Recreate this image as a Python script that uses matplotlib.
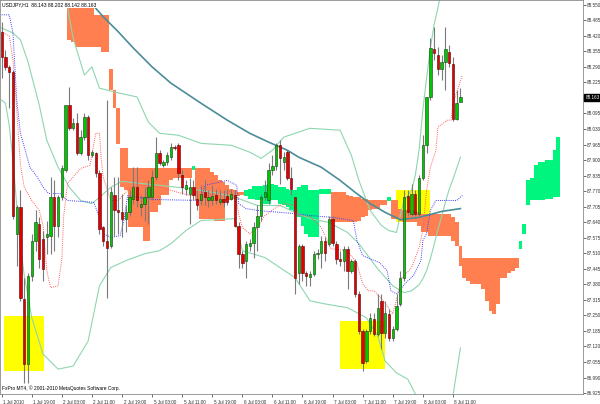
import matplotlib
matplotlib.use("Agg")
import matplotlib.pyplot as plt
import matplotlib.transforms as mtrans
import numpy as np

# USDJPY H1, bars from 1 Jul 2010 11:00 to 8 Jul 2010 13:00
opens = [88.437, 88.332, 88.290, 88.269, 87.592, 87.702, 87.319, 87.046, 87.416, 87.563,
         87.634, 87.571, 87.576, 87.584, 87.744, 87.626, 87.744, 87.857, 88.130, 88.033,
         88.054, 87.928, 87.996, 88.080, 87.920, 87.928, 87.844, 87.618, 87.563, 87.542,
         87.752, 87.689, 87.681, 87.655, 87.681, 87.739, 87.786, 87.702, 87.718, 87.744,
         87.744, 87.828, 87.928, 87.878, 87.891, 87.912, 87.954, 87.962, 87.836, 87.781,
         87.760, 87.786, 87.739, 87.731, 87.765, 87.731, 87.731, 87.752, 87.723, 87.739,
         87.748, 87.739, 87.752, 87.626, 87.508, 87.479, 87.542, 87.555, 87.618, 87.668,
         87.744, 87.731, 87.857, 87.874, 87.962, 87.891, 87.933, 87.823, 87.744, 87.429,
         87.542, 87.429, 87.412, 87.424, 87.508, 87.513, 87.563, 87.550, 87.655, 87.550,
         87.487, 87.479, 87.529, 87.437, 87.479, 87.340, 87.185, 87.059, 87.185, 87.235,
         87.172, 87.311, 87.177, 87.256, 87.156, 87.193, 87.298, 87.408, 87.748, 87.676,
         87.760, 87.676, 87.823, 87.962, 88.164, 88.365, 88.340, 88.281, 88.311, 88.353,
         88.302, 88.071, 88.143]
highs = [88.479, 88.361, 88.298, 88.277, 87.710, 87.773, 87.408, 87.429, 87.592, 87.689,
         87.660, 87.605, 87.647, 87.828, 87.815, 87.752, 87.878, 88.130, 88.206, 88.075,
         88.096, 88.025, 88.096, 88.088, 87.941, 87.933, 87.857, 87.626, 88.151, 87.786,
         87.828, 87.828, 87.760, 87.710, 87.773, 87.870, 87.870, 87.752, 87.786, 87.815,
         87.857, 87.996, 87.941, 87.899, 87.933, 87.970, 87.962, 87.970, 87.857, 87.815,
         87.823, 87.815, 87.773, 87.794, 87.815, 87.773, 87.794, 87.781, 87.773, 87.773,
         87.781, 87.781, 87.773, 87.639, 87.521, 87.563, 87.571, 87.639, 87.710, 87.760,
         87.815, 87.886, 87.920, 87.970, 87.983, 87.933, 87.941, 87.870, 87.744, 87.550,
         87.550, 87.437, 87.437, 87.521, 87.529, 87.584, 87.576, 87.668, 87.668, 87.563,
         87.521, 87.542, 87.542, 87.487, 87.487, 87.353, 87.193, 87.193, 87.261, 87.261,
         87.340, 87.340, 87.311, 87.277, 87.206, 87.340, 87.437, 87.773, 87.773, 87.802,
         87.773, 87.836, 88.004, 88.164, 88.411, 88.458, 88.374, 88.340, 88.458, 88.382,
         88.332, 88.193, 88.202]
lows = [88.243, 88.277, 88.117, 87.655, 87.458, 87.311, 86.967, 86.967, 87.395, 87.521,
        87.450, 87.395, 87.508, 87.508, 87.521, 87.576, 87.731, 87.849, 88.025, 88.025,
        87.920, 87.920, 87.983, 87.899, 87.912, 87.828, 87.592, 87.542, 87.324, 87.534,
        87.584, 87.592, 87.576, 87.597, 87.668, 87.718, 87.702, 87.668, 87.647, 87.634,
        87.731, 87.815, 87.878, 87.870, 87.878, 87.899, 87.941, 87.815, 87.760, 87.752,
        87.634, 87.731, 87.689, 87.710, 87.710, 87.702, 87.710, 87.718, 87.710, 87.702,
        87.710, 87.731, 87.618, 87.450, 87.450, 87.408, 87.521, 87.492, 87.521, 87.647,
        87.731, 87.718, 87.836, 87.857, 87.802, 87.857, 87.815, 87.752, 87.340, 87.382,
        87.395, 87.374, 87.374, 87.416, 87.487, 87.450, 87.479, 87.542, 87.542, 87.466,
        87.458, 87.437, 87.361, 87.429, 87.328, 87.172, 87.017, 87.051, 87.172, 87.164,
        87.164, 87.109, 87.156, 87.143, 87.143, 87.185, 87.290, 87.395, 87.668, 87.668,
        87.668, 87.668, 87.815, 87.928, 88.151, 88.319, 88.256, 88.235, 88.193, 88.290,
        88.063, 88.067, 88.142]
closes = [88.332, 88.290, 88.269, 87.668, 87.702, 87.324, 87.046, 87.416, 87.563, 87.639,
          87.487, 87.445, 87.592, 87.744, 87.626, 87.744, 87.865, 88.130, 88.033, 88.054,
          87.928, 87.996, 88.080, 87.920, 87.933, 87.844, 87.613, 87.563, 87.534, 87.765,
          87.689, 87.681, 87.655, 87.681, 87.744, 87.786, 87.731, 87.718, 87.744, 87.786,
          87.828, 87.928, 87.886, 87.891, 87.920, 87.954, 87.949, 87.844, 87.786, 87.794,
          87.786, 87.752, 87.710, 87.760, 87.744, 87.744, 87.748, 87.731, 87.739, 87.723,
          87.723, 87.760, 87.626, 87.508, 87.471, 87.550, 87.555, 87.618, 87.668, 87.744,
          87.765, 87.857, 87.874, 87.962, 87.907, 87.912, 87.823, 87.781, 87.408, 87.542,
          87.429, 87.416, 87.424, 87.508, 87.513, 87.563, 87.513, 87.655, 87.555, 87.487,
          87.479, 87.529, 87.437, 87.479, 87.340, 87.185, 87.051, 87.185, 87.240, 87.172,
          87.282, 87.177, 87.261, 87.156, 87.193, 87.290, 87.408, 87.744, 87.681, 87.760,
          87.676, 87.823, 87.962, 88.164, 88.369, 88.348, 88.281, 88.311, 88.365, 88.306,
          88.071, 88.138, 88.163]

# ichimoku cloud (senkou spans), bar 18 .. bar 148
cloud_start = 18
senkou_a = [88.592, 88.592, 88.592, 88.592, 88.592, 88.592, 88.550, 88.508, 88.508, 88.508,
            88.508, 88.281, 88.193, 88.117, 87.949, 87.949, 87.865, 87.865, 87.865, 87.865,
            87.865, 87.865, 87.865, 87.865, 87.865, 87.865, 87.865, 87.865, 87.865, 87.865,
            87.865, 87.865, 87.865, 87.857, 87.865, 87.865, 87.865, 87.865, 87.849, 87.836,
            87.815, 87.807, 87.794, 87.781, 87.773, 87.765, 87.765, 87.748, 87.739, 87.739,
            87.731, 87.731, 87.718, 87.718, 87.731, 87.731, 87.718, 87.710, 87.702, 87.689,
            87.681, 87.660, 87.626, 87.592, 87.576, 87.576, 87.576, 87.760, 87.760, 87.760,
            87.765, 87.765, 87.765, 87.765, 87.752, 87.748, 87.744, 87.744, 87.739, 87.739,
            87.735, 87.731, 87.731, 87.731, 87.731, 87.727, 87.731, 87.731, 87.697, 87.689,
            87.689, 87.689, 87.689, 87.681, 87.676, 87.676, 87.676, 87.676, 87.676, 87.676,
            87.676, 87.676, 87.660, 87.639, 87.542, 87.492, 87.492, 87.492, 87.492, 87.492,
            87.492, 87.492, 87.492, 87.492, 87.492, 87.492, 87.492, 87.492, 87.492, 87.492,
            87.529, 87.592, 87.710, 87.731, 87.731, 87.731, 87.731, 87.739, 87.739, 87.744,
            87.744]
senkou_b = [88.403, 88.395, 88.374, 88.374, 88.374, 88.374, 88.374, 88.374, 88.374, 88.353,
            88.353, 88.193, 88.117, 87.966, 87.786, 87.773, 87.618, 87.618, 87.618, 87.618,
            87.563, 87.563, 87.681, 87.681, 87.710, 87.752, 87.752, 87.815, 87.823, 87.823,
            87.823, 87.823, 87.823, 87.874, 87.731, 87.655, 87.655, 87.655, 87.655, 87.647,
            87.647, 87.647, 87.731, 87.731, 87.739, 87.748, 87.752, 87.773, 87.781, 87.790,
            87.790, 87.790, 87.794, 87.802, 87.802, 87.794, 87.786, 87.786, 87.781, 87.773,
            87.773, 87.786, 87.794, 87.794, 87.773, 87.773, 87.773, 87.781, 87.781, 87.781,
            87.639, 87.639, 87.639, 87.639, 87.639, 87.639, 87.639, 87.647, 87.660, 87.668,
            87.689, 87.697, 87.697, 87.710, 87.714, 87.744, 87.655, 87.655, 87.647, 87.639,
            87.639, 87.639, 87.639, 87.626, 87.597, 87.597, 87.584, 87.584, 87.584, 87.584,
            87.584, 87.584, 87.563, 87.542, 87.458, 87.408, 87.395, 87.382, 87.382, 87.382,
            87.361, 87.311, 87.269, 87.256, 87.298, 87.408, 87.408, 87.429, 87.437, 87.450,
            87.563, 87.634, 87.815, 87.823, 87.878, 87.891, 87.891, 87.899, 87.899, 87.941,
            87.996]

# bollinger bands, read at sample bars
bb_mid_bars = [0, 3, 5, 7, 10, 12, 15, 18, 21, 24, 26, 29, 32, 37, 42, 47, 53, 58, 63, 68,
               74, 78, 82, 87, 92, 95, 100, 104, 107, 109, 111, 112, 113, 114, 115, 116,
               117, 118, 119, 120, 121, 122]
bb_mid = [88.453, 88.432, 88.403, 88.311, 88.130, 87.983, 87.870, 87.786, 87.731, 87.718,
          87.744, 87.786, 87.811, 87.802, 87.794, 87.786, 87.773, 87.760, 87.739, 87.710,
          87.710, 87.681, 87.655, 87.639, 87.597, 87.550, 87.445, 87.374, 87.345, 87.353,
          87.378, 87.403, 87.437, 87.487, 87.546, 87.609, 87.664, 87.723, 87.777, 87.819,
          87.865, 87.912]
bb_low_bars = [0, 1, 2, 3, 4, 5, 6, 7, 8, 11, 15, 19, 23, 26, 29, 33, 38, 42, 45, 49, 53,
               62, 64, 70, 74, 78, 82, 86, 92, 97, 100, 102, 105, 108, 111, 115, 119, 120, 122]
bb_low = [88.151, 88.138, 88.046, 87.899, 87.710, 87.542, 87.416, 87.332, 87.240, 87.088,
          87.025, 87.038, 87.143, 87.374, 87.450, 87.479, 87.508, 87.521, 87.550, 87.605,
          87.647, 87.655, 87.521, 87.492, 87.450, 87.408, 87.311, 87.298, 87.282, 87.240,
          87.164, 87.059, 87.009, 86.983, 86.891, 86.807, 86.849, 86.912, 87.114]
bb_up_bars = [15, 17, 18, 19, 22, 24, 26, 30, 36, 39, 42, 47, 53, 61, 66, 69, 72, 75, 82,
              90, 93, 95, 98, 101, 103, 105, 106, 107, 109, 110, 111, 112, 113, 114, 115,
              116, 117, 122]
bb_up = [88.697, 88.592, 88.495, 88.411, 88.256, 88.290, 88.201, 88.185, 88.164, 88.059,
         88.012, 88.004, 87.970, 87.962, 87.933, 87.907, 87.941, 87.996, 88.033, 88.025,
         87.920, 87.815, 87.689, 87.626, 87.605, 87.597, 87.668, 87.731, 87.773, 87.836,
         87.941, 88.109, 88.243, 88.369, 88.466, 88.537, 88.613, 88.739]

# slow moving average (teal)
ma_bars = [19, 23, 27, 31, 35, 40, 45, 53, 60, 66, 71, 76, 79, 85, 90, 94, 98, 102, 106,
           111, 117, 122]
ma_slow = [88.642, 88.571, 88.500, 88.437, 88.369, 88.290, 88.222, 88.138, 88.067, 88.012,
           87.975, 87.941, 87.912, 87.870, 87.815, 87.765, 87.718, 87.681, 87.651, 87.660,
           87.685, 87.697]

# tenkan-sen (red dotted) and kijun-sen (blue dotted)
tenkan_bars = [0, 2, 3, 4, 5, 6, 8, 10, 11, 12, 13, 15, 16, 16.5, 17.5, 21, 23.5, 25, 26,
               26.5, 27, 29, 31, 33, 35, 40, 45, 50, 55, 62, 63, 64, 66, 68, 70, 73, 75, 78,
               79, 82, 85, 87.5, 92, 94.5, 96, 97.5, 99, 101.5, 104, 106.5, 109, 111, 112,
               113, 114, 115.5, 116, 118.5, 119.5, 120, 121.5, 122.5]
tenkan = [88.437, 88.420, 88.319, 88.109, 87.878, 87.786, 87.731, 87.689, 87.626, 87.437,
          87.366, 87.374, 87.487, 87.668, 87.802, 87.865, 87.878, 88.012, 88.012, 87.899,
          87.828, 87.731, 87.731, 87.765, 87.790, 87.794, 87.773, 87.752, 87.752, 87.773,
          87.676, 87.618, 87.592, 87.618, 87.668, 87.702, 87.718, 87.710, 87.668, 87.664,
          87.618, 87.529, 87.521, 87.466, 87.382, 87.353, 87.353, 87.311, 87.256, 87.408,
          87.450, 87.534, 87.605, 87.773, 87.870, 87.941, 88.038, 88.067, 88.067, 88.138,
          88.206, 88.256]
kijun_bars = [0, 2, 3, 4, 5, 7.5, 9.5, 11, 12.5, 15.5, 17.5, 24.5, 26, 27, 29, 31.5, 32.5,
              33.5, 40, 53, 54, 60, 62.5, 63, 65, 68, 78, 82, 88, 93.5, 94.5, 96, 98, 100.5,
              102.5, 103.5, 105, 107.5, 109.5, 111.5, 112, 113, 114, 115.5, 121, 122.5]
kijun = [88.508, 88.508, 88.432, 88.151, 88.012, 87.870, 87.828, 87.786, 87.760, 87.760,
         87.731, 87.723, 87.660, 87.592, 87.576, 87.584, 87.647, 87.752, 87.735, 87.731,
         87.794, 87.815, 87.794, 87.718, 87.697, 87.689, 87.676, 87.668, 87.660, 87.647,
         87.563, 87.500, 87.487, 87.471, 87.437, 87.353, 87.340, 87.387, 87.416, 87.479,
         87.563, 87.592, 87.689, 87.731, 87.731, 87.752]

# yellow boxes: first bar, last bar, low price, high price
boxes = [(0.6, 11.2, 87.017, 87.248),
         (90.0, 102.0, 87.025, 87.227),
         (104.9, 114.0, 87.639, 87.773)]

price_ticks = [86.925, 86.990, 87.055, 87.120, 87.185, 87.250, 87.315, 87.380, 87.445,
               87.510, 87.575, 87.640, 87.705, 87.770, 87.835, 87.900, 87.965, 88.030,
               88.095, 88.160, 88.225, 88.290, 88.355, 88.420, 88.485, 88.550]
time_ticks = [0, 8, 16, 24, 32, 40, 48, 56, 64, 72, 80, 88, 96, 104, 112, 120]
time_labels = ['1 Jul 2010', '1 Jul 19:00', '2 Jul 03:00', '2 Jul 11:00', '2 Jul 19:00',
               '5 Jul 03:00', '5 Jul 11:00', '5 Jul 19:00', '6 Jul 03:00', '6 Jul 11:00',
               '6 Jul 19:00', '7 Jul 03:00', '7 Jul 11:00', '7 Jul 19:00', '8 Jul 03:00',
               '8 Jul 11:00']
last_price = 88.163

plt.rcParams['font.family'] = ['Liberation Sans', 'DejaVu Sans']

fig = plt.figure(figsize=(6.0, 4.04), dpi=100)
ax = fig.add_axes([0, 10 / 404, 583 / 600, 394 / 404])
ax.set_xlim(-0.45, 154.6)
ax.set_ylim(86.921, 88.570)

# yellow rectangles
for x0, x1, lo, hi in boxes:
    ax.add_patch(plt.Rectangle((x0, lo), x1 - x0, hi - lo, color='#ffff00', lw=0, zorder=0.5))

# cloud as histogram
sa = np.array(senkou_a)
sb = np.array(senkou_b)
cx = np.arange(cloud_start, cloud_start + len(sa))
up = sa >= sb
ax.bar(cx[up], (sa - sb)[up], bottom=sb[up], width=1.0, color='#ff7f50', lw=0, zorder=1)
ax.bar(cx[~up], (sb - sa)[~up], bottom=sa[~up], width=1.0, color='#00f57f', lw=0, zorder=1)

# bands and averages
bb_col = '#8ed6ae'
ax.plot(bb_up_bars, bb_up, color=bb_col, lw=0.8, zorder=2)
ax.plot(bb_mid_bars, bb_mid, color=bb_col, lw=0.8, zorder=2)
ax.plot(bb_low_bars, bb_low, color=bb_col, lw=0.8, zorder=2)
ax.plot(ma_bars, ma_slow, color='#4b8d98', lw=1.2, zorder=2.2)
ax.plot(tenkan_bars, tenkan, color='#ff5c5c', lw=0.7, ls=(0, (1, 1.2)), zorder=2.5)
ax.plot(kijun_bars, kijun, color='#3c3cff', lw=0.7, ls=(0, (1, 1.2)), zorder=2.5)

# candles
o = np.array(opens)
h = np.array(highs)
l = np.array(lows)
c = np.array(closes)
bx = np.arange(len(o))
ax.vlines(bx, l, h, color='#7a7a7a', lw=0.8, zorder=3)
bull = c >= o
ax.bar(bx[bull], np.maximum(c - o, 0.003)[bull], bottom=o[bull], width=0.62,
       color='#00c800', edgecolor='#1a3a1a', lw=0.4, zorder=3.5)
ax.bar(bx[~bull], np.maximum(o - c, 0.003)[~bull], bottom=c[~bull], width=0.62,
       color='#e00000', edgecolor='#5a0000', lw=0.4, zorder=3.5)

# axes styling
for s in ax.spines.values():
    s.set_color('#8a8a8a')
    s.set_linewidth(0.6)
ax.yaxis.tick_right()
ax.set_yticks(price_ticks)
ax.set_yticklabels(['' if abs(v - last_price) < 0.004 else f'{v:.3f}' for v in price_ticks])
ax.tick_params(axis='y', labelsize=3.3, length=2, width=0.5, pad=1, colors='#303030')
ax.set_xticks(time_ticks)
ax.set_xticklabels(time_labels, ha='left')
ax.tick_params(axis='x', labelsize=3.3, length=2.5, width=0.5, pad=1.5, colors='#303030')
shift = mtrans.ScaledTranslation(1.5 / 100, 0, fig.dpi_scale_trans)
for lab in ax.get_xticklabels():
    lab.set_transform(lab.get_transform() + shift)

# current price tag
tr = mtrans.blended_transform_factory(ax.transAxes, ax.transData)
ax.text(1.004, last_price, f'{last_price:.3f}', transform=tr, fontsize=3.3, color='white',
        va='center', ha='left', clip_on=False,
        bbox=dict(boxstyle='square,pad=0.25', fc='black', ec='black'))

ax.text(0.004, 0.994, 'USDJPY,H1  88.143 88.202 88.142 88.163', transform=ax.transAxes,
        fontsize=3.6, va='top', ha='left', zorder=6,
        bbox=dict(boxstyle='square,pad=0.2', fc='white', ec='none'))
ax.text(0.004, 0.008, 'FxPro MT4, \u00a9 2001-2010 MetaQuotes Software Corp.',
        transform=ax.transAxes, fontsize=3.5, va='bottom', ha='left', zorder=6)

fig.savefig('out.png', dpi=100)
